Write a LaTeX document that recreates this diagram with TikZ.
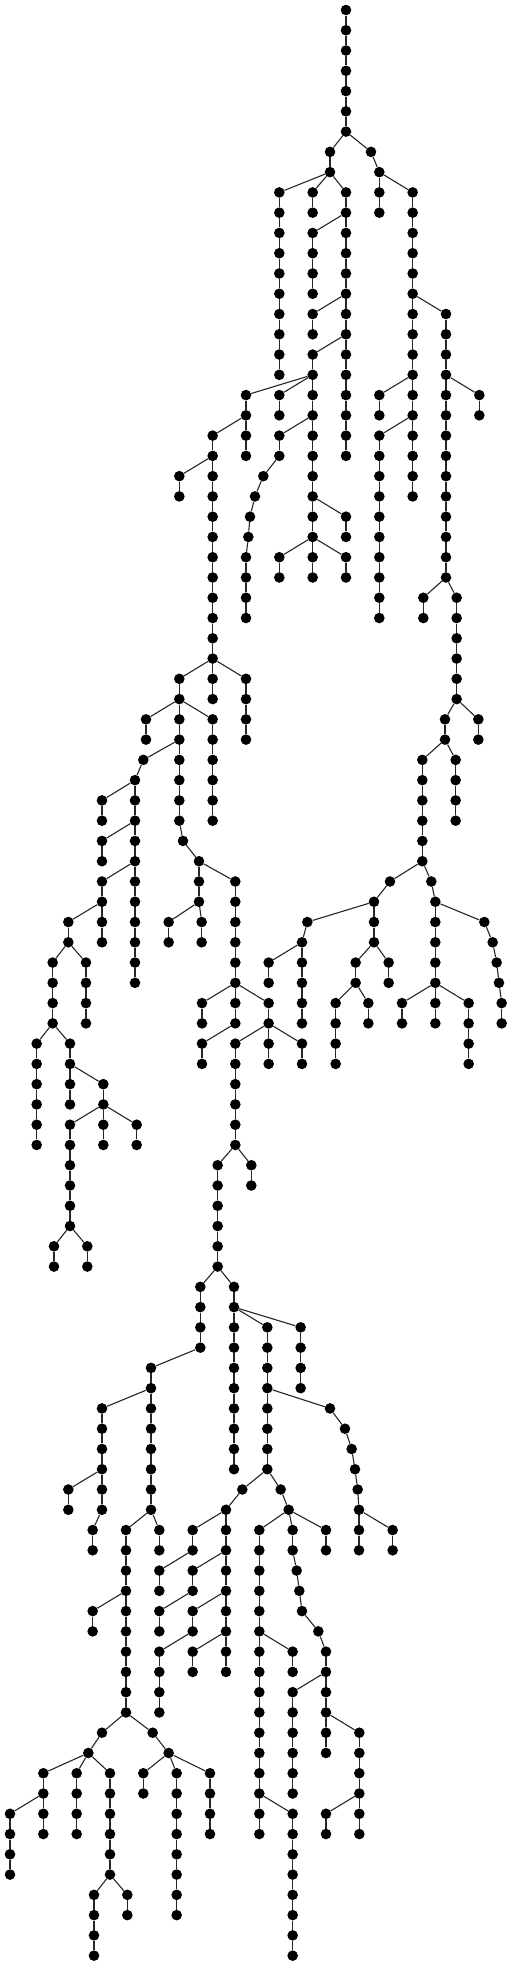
\documentclass[tikz,border=0pt]{standalone}
\tikzset{
  tdot/.style={circle,fill=black,draw=none,inner sep=0pt,minimum size=10.6pt},
  tedge/.style={line width=1.1pt,black!85}
}
\newcommand\TNode[2]{\node[tdot] (a#1-#2) at (#1,#2) {};}
\newcommand\TEdge[4]{\draw[tedge] (a#1-#2) -- (a#3-#4);}
\newcommand\TChain[3]{%
  \foreach \l in {#2,...,#3}{\TNode{#1}{\l}}%
  \pgfmathtruncatemacro\chs{#2+1}%
  \foreach \l in {\chs,...,#3}{\pgfmathtruncatemacro\chp{\l-1}\TEdge{#1}{\chp}{#1}{\l}}%
}
\begin{document}
\begin{tikzpicture}
\path[use as bounding box,fill=white] (0pt,0pt) rectangle (512pt,-1966pt);
\begin{scope}[x=0.333333pt,y=-20.267pt,shift={(0pt,-10pt)}]
\TChain{1038}{0}{6}
\TChain{990}{7}{8} \TEdge{1038}{6}{990}{7}
\TNode{1113}{7} \TEdge{1038}{6}{1113}{7}
\TChain{1138}{8}{10} \TEdge{1113}{7}{1138}{8}
\TChain{838}{9}{18} \TEdge{990}{8}{838}{9}
\TChain{938}{9}{10} \TEdge{990}{8}{938}{9}
\TChain{1038}{9}{22} \TEdge{990}{8}{1038}{9}
\TChain{938}{11}{14} \TEdge{1038}{10}{938}{11}
\TChain{938}{15}{16} \TEdge{1038}{14}{938}{15}
\TChain{938}{17}{28} \TEdge{1038}{16}{938}{17}
\TChain{738}{19}{22} \TEdge{938}{18}{738}{19}
\TChain{838}{19}{20} \TEdge{938}{18}{838}{19}
\TChain{638}{21}{34} \TEdge{738}{20}{638}{21}
\TChain{538}{23}{24} \TEdge{638}{22}{538}{23}
\TChain{838}{21}{22} \TEdge{938}{20}{838}{21}
\TNode{790}{23} \TEdge{838}{22}{790}{23}
\TNode{765}{24} \TEdge{790}{23}{765}{24}
\TNode{750}{25} \TEdge{765}{24}{750}{25}
\TNode{745}{26} \TEdge{750}{25}{745}{26}
\TChain{738}{27}{30} \TEdge{745}{26}{738}{27}
\TChain{1038}{25}{26} \TEdge{938}{24}{1038}{25}
\TChain{838}{27}{28} \TEdge{938}{26}{838}{27}
\TChain{1038}{27}{28} \TEdge{938}{26}{1038}{27}
% right part
\TChain{1238}{9}{24} \TEdge{1138}{8}{1238}{9}
\TChain{1338}{15}{28} \TEdge{1238}{14}{1338}{15}
\TChain{1438}{19}{20} \TEdge{1338}{18}{1438}{19}
\TChain{1138}{19}{20} \TEdge{1238}{18}{1138}{19}
\TChain{1138}{21}{30} \TEdge{1238}{20}{1138}{21}
\TChain{1270}{29}{30} \TEdge{1338}{28}{1270}{29}
\TChain{1370}{29}{34} \TEdge{1338}{28}{1370}{29}
\TChain{1435}{35}{36} \TEdge{1370}{34}{1435}{35}
\TChain{1335}{35}{36} \TEdge{1370}{34}{1335}{35}
\TChain{1367}{37}{40} \TEdge{1335}{36}{1367}{37}
\TChain{1267}{37}{42} \TEdge{1335}{36}{1267}{37}
\TNode{1170}{43} \TEdge{1267}{42}{1170}{43}
\TChain{1122}{44}{46} \TEdge{1170}{43}{1122}{44}
\TNode{922}{45} \TEdge{1122}{44}{922}{45}
\TChain{906}{46}{50} \TEdge{922}{45}{906}{46}
\TChain{806}{47}{48} \TEdge{906}{46}{806}{47}
\TChain{1067}{47}{48} \TEdge{1122}{46}{1067}{47}
\TChain{1007}{49}{52} \TEdge{1067}{48}{1007}{49}
\TChain{1105}{49}{50} \TEdge{1067}{48}{1105}{49}
\TChain{1166}{47}{48} \TEdge{1122}{46}{1166}{47}
\TNode{1294}{43} \TEdge{1267}{42}{1294}{43}
\TChain{1306}{44}{50} \TEdge{1294}{43}{1306}{44}
\TNode{1453}{45} \TEdge{1306}{44}{1453}{45}
\TNode{1478}{46} \TEdge{1453}{45}{1478}{46}
\TNode{1490}{47} \TEdge{1478}{46}{1490}{47}
\TNode{1497}{48} \TEdge{1490}{47}{1497}{48}
\TChain{1505}{49}{50} \TEdge{1497}{48}{1505}{49}
\TChain{1206}{49}{50} \TEdge{1306}{48}{1206}{49}
\TChain{1406}{49}{52} \TEdge{1306}{48}{1406}{49}
% left big part
\TChain{738}{33}{36} \TEdge{638}{32}{738}{33}
\TChain{538}{33}{40} \TEdge{638}{32}{538}{33}
\TChain{438}{35}{36} \TEdge{538}{34}{438}{35}
\TChain{638}{35}{40} \TEdge{538}{34}{638}{35}
\TNode{430}{37} \TEdge{538}{36}{430}{37}
\TChain{405}{38}{48} \TEdge{430}{37}{405}{38}
\TChain{306}{39}{40} \TEdge{405}{38}{306}{39}
\TChain{306}{41}{42} \TEdge{405}{40}{306}{41}
\TChain{306}{43}{46} \TEdge{405}{42}{306}{43}
\TChain{205}{45}{46} \TEdge{306}{44}{205}{45}
\TChain{158}{47}{50} \TEdge{205}{46}{158}{47}
\TChain{258}{47}{50} \TEdge{205}{46}{258}{47}
\TChain{110}{51}{56} \TEdge{158}{50}{110}{51}
\TChain{210}{51}{54} \TEdge{158}{50}{210}{51}
\TChain{310}{53}{56} \TEdge{210}{52}{310}{53}
\TChain{210}{55}{60} \TEdge{310}{54}{210}{55}
\TChain{162}{61}{62} \TEdge{210}{60}{162}{61}
\TChain{262}{61}{62} \TEdge{210}{60}{262}{61}
\TChain{410}{55}{56} \TEdge{310}{54}{410}{55}
\TNode{549}{41} \TEdge{538}{40}{549}{41}
\TChain{597}{42}{44} \TEdge{549}{41}{597}{42}
\TChain{506}{45}{46} \TEdge{597}{44}{506}{45}
\TChain{605}{45}{46} \TEdge{597}{44}{605}{45}
\TChain{706}{43}{50} \TEdge{597}{42}{706}{43}
\TChain{606}{49}{50} \TEdge{706}{48}{606}{49}
\TChain{806}{49}{52} \TEdge{706}{48}{806}{49}
\TChain{606}{51}{52} \TEdge{706}{50}{606}{51}
\TChain{706}{51}{56} \TEdge{806}{50}{706}{51}
\TChain{906}{51}{52} \TEdge{806}{50}{906}{51}
\TChain{754}{57}{58} \TEdge{706}{56}{754}{57}
\TChain{653}{57}{62} \TEdge{706}{56}{653}{57}
\TChain{601}{63}{66} \TEdge{653}{62}{601}{63}
\TChain{702}{63}{72} \TEdge{653}{62}{702}{63}
\TChain{453}{67}{74} \TEdge{601}{66}{453}{67}
\TChain{306}{69}{74} \TEdge{453}{68}{306}{69}
\TChain{205}{73}{74} \TEdge{306}{72}{205}{73}
\TChain{278}{75}{76} \TEdge{306}{74}{278}{75}
\TChain{478}{75}{76} \TEdge{453}{74}{478}{75}
\TChain{378}{75}{84} \TEdge{453}{74}{378}{75}
\TChain{278}{79}{80} \TEdge{378}{78}{278}{79}
\TNode{306}{85} \TEdge{378}{84}{306}{85}
\TNode{265}{86} \TEdge{306}{85}{265}{86}
\TChain{130}{87}{90} \TEdge{265}{86}{130}{87}
\TChain{30}{89}{92} \TEdge{130}{88}{30}{89}
\TChain{230}{87}{90} \TEdge{265}{86}{230}{87}
\TChain{330}{87}{92} \TEdge{265}{86}{330}{87}
\TChain{282}{93}{96} \TEdge{330}{92}{282}{93}
\TChain{382}{93}{94} \TEdge{330}{92}{382}{93}
\TNode{458}{85} \TEdge{378}{84}{458}{85}
\TNode{506}{86} \TEdge{458}{85}{506}{86}
\TChain{430}{87}{88} \TEdge{506}{86}{430}{87}
\TChain{530}{87}{94} \TEdge{506}{86}{530}{87}
\TChain{630}{87}{90} \TEdge{506}{86}{630}{87}
\TChain{802}{65}{72} \TEdge{702}{64}{802}{65}
\TChain{902}{65}{68} \TEdge{702}{64}{902}{65}
\TNode{990}{69} \TEdge{802}{68}{990}{69}
\TNode{1035}{70} \TEdge{990}{69}{1035}{70}
\TNode{1055}{71} \TEdge{1035}{70}{1055}{71}
\TNode{1065}{72} \TEdge{1055}{71}{1065}{72}
\TNode{1073}{73} \TEdge{1065}{72}{1073}{73}
\TChain{1077}{74}{76} \TEdge{1073}{73}{1077}{74}
\TChain{1178}{75}{76} \TEdge{1077}{74}{1178}{75}
\TNode{727}{73} \TEdge{802}{72}{727}{73}
\TChain{678}{74}{82} \TEdge{727}{73}{678}{74}
\TChain{578}{75}{76} \TEdge{678}{74}{578}{75}
\TChain{578}{77}{78} \TEdge{678}{76}{578}{77}
\TChain{578}{79}{80} \TEdge{678}{78}{578}{79}
\TChain{578}{81}{82} \TEdge{678}{80}{578}{81}
\TChain{478}{77}{78} \TEdge{578}{76}{478}{77}
\TChain{478}{79}{80} \TEdge{578}{78}{478}{79}
\TChain{478}{81}{84} \TEdge{578}{80}{478}{81}
\TNode{842}{73} \TEdge{802}{72}{842}{73}
\TNode{866}{74} \TEdge{842}{73}{866}{74}
\TChain{778}{75}{90} \TEdge{866}{74}{778}{75}
\TChain{878}{81}{82} \TEdge{778}{80}{878}{81}
\TChain{878}{89}{96} \TEdge{778}{88}{878}{89}
\TChain{878}{75}{76} \TEdge{866}{74}{878}{75}
\TNode{890}{77} \TEdge{878}{76}{890}{77}
\TNode{898}{78} \TEdge{890}{77}{898}{78}
\TNode{906}{79} \TEdge{898}{78}{906}{79}
\TNode{955}{80} \TEdge{906}{79}{955}{80}
\TChain{978}{81}{86} \TEdge{955}{80}{978}{81}
\TChain{878}{83}{88} \TEdge{978}{82}{878}{83}
\TChain{1078}{85}{90} \TEdge{978}{84}{1078}{85}
\TChain{978}{89}{90} \TEdge{1078}{88}{978}{89}
\TChain{978}{75}{76} \TEdge{866}{74}{978}{75}
\end{scope}
\end{tikzpicture}
\end{document}
